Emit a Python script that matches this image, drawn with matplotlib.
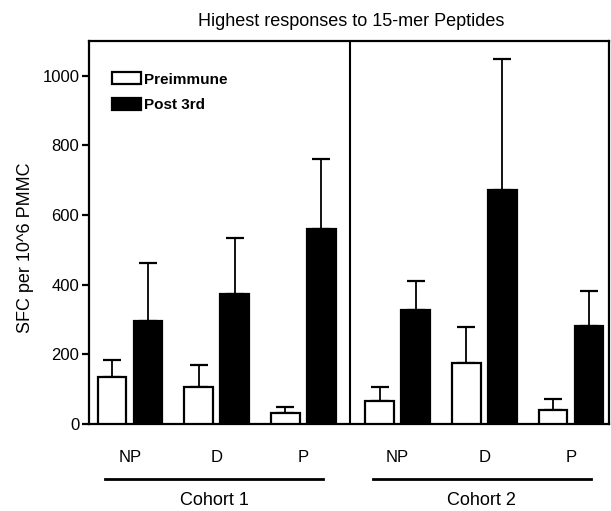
import numpy as np
import matplotlib
matplotlib.use('agg')
import matplotlib.pyplot as plt
from matplotlib.patches import Patch

plt.rcParams['font.family'] = ['Liberation Sans', 'DejaVu Sans']

peptides = ['NP', 'D', 'P']
cohorts = ['Cohort 1', 'Cohort 2']
pre_mean = [136, 107, 31, 67, 174, 40]
pre_err = [48, 63, 17, 40, 104, 31]
post_mean = [295, 373, 561, 326, 672, 282]
post_err = [168, 162, 199, 86, 376, 101]

# group positions, small extra gap between the two cohorts
x = np.array([0, 1, 2, 3.09, 4.09, 5.09])
off = 0.208
w = 0.33

fig = plt.figure(figsize=(6.11, 5.11), dpi=100)
ax = fig.add_axes([0.1457, 0.1703, 0.8510, 0.7495])

ax.bar(x - off, pre_mean, w, color='white', edgecolor='black', linewidth=1.6, zorder=3)
ax.bar(x + off, post_mean, w, color='black', edgecolor='black', linewidth=1.6, zorder=3)
ax.errorbar(x - off, pre_mean, yerr=[np.zeros(6), pre_err], fmt='none', ecolor='black',
            elinewidth=1.3, capsize=6.5, capthick=1.6, zorder=2)
ax.errorbar(x + off, post_mean, yerr=[np.zeros(6), post_err], fmt='none', ecolor='black',
            elinewidth=1.3, capsize=6.5, capthick=1.6, zorder=2)

ax.axvline(2.54, color='black', linewidth=1.5)
ax.set_xlim(-0.473, 5.53)
ax.set_ylim(0, 1100)
ax.set_yticks([0, 200, 400, 600, 800, 1000])
ax.tick_params(axis='y', length=5, width=1.6, labelsize=12, pad=2)
ax.set_xticks(x)
ax.set_xticklabels(peptides * 2)
ax.tick_params(axis='x', length=0, labelsize=12, pad=19)
for s in ax.spines.values():
    s.set_linewidth(1.6)

ax.set_ylabel('SFC per 10^6 PMMC', fontsize=13)
ax.yaxis.set_label_coords(-0.105, 0.46)
ax.set_title('Highest responses to 15-mer Peptides', fontsize=13, pad=11, x=0.505)

trans = ax.get_xaxis_transform()
for i, name in enumerate(cohorts):
    g = x[i * 3:(i + 1) * 3]
    ax.plot([g[0] - 0.29, g[-1] + 0.23], [-0.1436, -0.1436], color='black', linewidth=2,
            transform=trans, clip_on=False)
    ax.text(g.mean() - 0.03, -0.2, name, transform=trans, ha='center', va='center', fontsize=13)

handles = [Patch(facecolor='white', edgecolor='black', linewidth=1.6, label='Preimmune'),
           Patch(facecolor='black', edgecolor='black', linewidth=1.6, label='Post 3rd')]
ax.legend(handles=handles, loc='upper left', bbox_to_anchor=(0.0315, 0.934), frameon=False,
          prop={'weight': 'bold', 'size': 11}, handlelength=1.9, handleheight=0.8,
          handletextpad=0.25, labelspacing=0.75, borderaxespad=0)

fig.savefig('out.png', dpi=100)
